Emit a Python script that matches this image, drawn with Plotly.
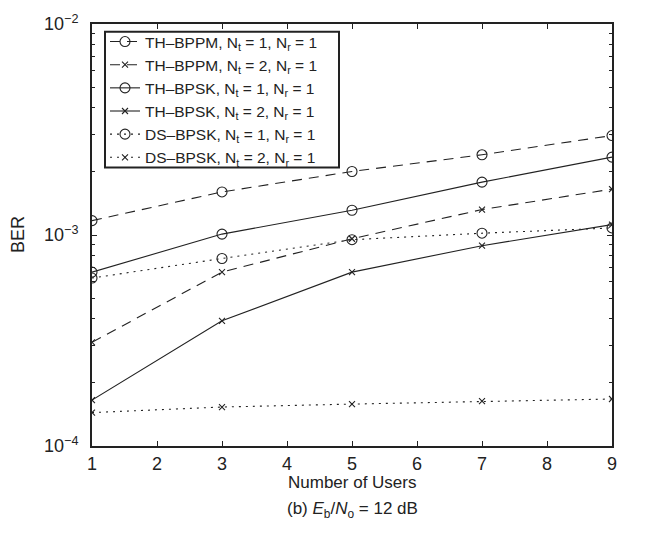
import plotly.graph_objects as go

users = [1, 3, 5, 7, 9]
th_bppm_nt1 = [1.17e-3, 1.60e-3, 2.00e-3, 2.40e-3, 2.96e-3]
th_bppm_nt2 = [3.10e-4, 6.67e-4, 9.60e-4, 1.32e-3, 1.65e-3]
th_bpsk_nt1 = [6.67e-4, 1.01e-3, 1.31e-3, 1.78e-3, 2.34e-3]
th_bpsk_nt2 = [1.65e-4, 3.92e-4, 6.67e-4, 8.90e-4, 1.12e-3]
ds_bpsk_nt1 = [6.25e-4, 7.74e-4, 9.50e-4, 1.02e-3, 1.08e-3]
ds_bpsk_nt2 = [1.44e-4, 1.53e-4, 1.58e-4, 1.63e-4, 1.67e-4]

names = [
    "TH\u2013BPPM, N<sub>t</sub> = 1, N<sub>r</sub> = 1",
    "TH\u2013BPPM, N<sub>t</sub> = 2, N<sub>r</sub> = 1",
    "TH\u2013BPSK, N<sub>t</sub> = 1, N<sub>r</sub> = 1",
    "TH\u2013BPSK, N<sub>t</sub> = 2, N<sub>r</sub> = 1",
    "DS\u2013BPSK, N<sub>t</sub> = 1, N<sub>r</sub> = 1",
    "DS\u2013BPSK, N<sub>t</sub> = 2, N<sub>r</sub> = 1",
]
series = [th_bppm_nt1, th_bppm_nt2, th_bpsk_nt1, th_bpsk_nt2, ds_bpsk_nt1, ds_bpsk_nt2]
dashes = ["10px,7px", "10px,7px", "solid", "solid", "2px,5px", "2px,5px"]
symbols = ["circle-open", "x-thin-open", "circle-open", "x-thin-open", "circle-open", "x-thin-open"]
sizes = [10, 6, 10, 6, 10, 6]

y_tickvals = [1e-4, 1e-3, 1e-2]
y_ticktext = ["10<sup>\u22124</sup>", "10<sup>\u22123</sup>", "10<sup>\u22122</sup>"]
x_ticks = [1, 2, 3, 4, 5, 6, 7, 8, 9]

col = "#222222"
fig = go.Figure()
for nm, ys, d, s, sz in zip(names, series, dashes, symbols, sizes):
    fig.add_trace(go.Scatter(
        x=users, y=ys, name=nm, mode="lines+markers",
        line=dict(color=col, width=1.1, dash=d),
        marker=dict(symbol=s, size=sz, color=col, line=dict(color=col, width=1.1)),
    ))

minor_vals = [m * 10 ** e for e in (-4, -3) for m in range(2, 10)]

L, T, W, H = 92, 14, 520, 432
px_x = lambda p: (p - L) / W
px_y = lambda p: 1 - (p - T) / H

fig.update_layout(
    width=645, height=543,
    margin=dict(l=L, r=645 - L - W, t=T, b=543 - T - H),
    paper_bgcolor="white", plot_bgcolor="white",
    font=dict(family="Liberation Sans, Arial, sans-serif", color="#222", size=18),
    showlegend=True,
    legend=dict(
        x=px_x(105), y=px_y(15), xanchor="left", yanchor="top",
        bgcolor="rgba(0,0,0,0)", borderwidth=0,
        font=dict(size=15.5, color="#222"),
        tracegroupgap=0,
    ),
    shapes=[dict(type="rect", xref="paper", yref="paper",
                 x0=px_x(105), x1=px_x(339), y0=px_y(161), y1=px_y(22),
                 line=dict(color="#222", width=2), fillcolor="white", layer="above")],
    xaxis=dict(
        range=[1, 9], tickvals=x_ticks, ticks="inside", ticklen=5,
        showgrid=False, zeroline=False, showline=True, linecolor="#222", linewidth=2,
        mirror="allticks", tickfont=dict(size=18), tickcolor="#222",
    ),
    yaxis=dict(
        type="log", range=[-4, -2], tickvals=y_tickvals, ticktext=y_ticktext,
        ticks="inside", ticklen=5, tickcolor="#222", ticklabeloverflow="allow",
        ticklabelstandoff=8,
        showgrid=False, zeroline=False, showline=True, linecolor="#222", linewidth=2,
        mirror="allticks", tickfont=dict(size=18),
        minor=dict(tickvals=minor_vals, ticks="inside", ticklen=3, tickcolor="#222", showgrid=False),
    ),
    annotations=[
        dict(text="BER", x=px_x(18), xref="paper", y=0.5, yref="paper", showarrow=False,
             textangle=-90, font=dict(size=18), xanchor="center", yanchor="middle"),
        dict(text="Number of Users", x=0.5, xref="paper", y=-37 / H, yref="paper",
             showarrow=False, font=dict(size=17), xanchor="center", yanchor="middle"),
        dict(text="(b) <i>E</i><sub>b</sub>/<i>N</i><sub>o</sub> = 12 dB", x=0.5, xref="paper",
             y=-66 / H, yref="paper", showarrow=False, font=dict(size=17),
             xanchor="center", yanchor="middle"),
    ],
)

fig.write_html("out.html", config={"displayModeBar": False},
               post_script="document.body.style.margin='0px';")
